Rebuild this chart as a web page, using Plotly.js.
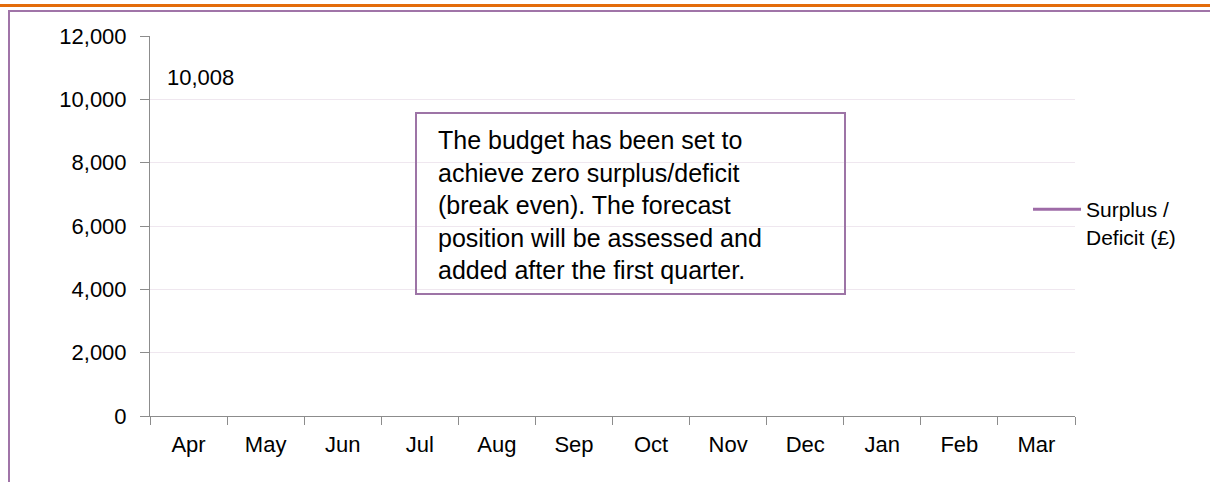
<!DOCTYPE html>
<html>
<head>
<meta charset="utf-8">
<script src="https://cdn.plot.ly/plotly-3.0.1.min.js"></script>
<style>
  html, body { margin: 0; padding: 0; background: #ffffff; }
  #wrap { position: relative; width: 1210px; height: 482px; overflow: hidden; background: #ffffff; }
  #orange { position: absolute; left: 0; top: 4px; width: 1210px; height: 3px; background: #E36C0A; }
  #frame { position: absolute; left: 8px; top: 10px; width: 1210px; height: 480px;
           border-left: 2px solid #A074A8; border-top: 2px solid #A074A8; }
  #chart { position: absolute; left: 0; top: 0; width: 1210px; height: 482px; }
</style>
</head>
<body>
<div id="wrap">
  <div id="orange"></div>
  <div id="frame"></div>
  <div id="chart"></div>
</div>
<script>
// ---- data ----
const months = ['Apr', 'May', 'Jun', 'Jul', 'Aug', 'Sep', 'Oct', 'Nov', 'Dec', 'Jan', 'Feb', 'Mar'];
const surplus = [10008, null, null, null, null, null, null, null, null, null, null, null];
const seriesName = 'Surplus /<br>Deficit (£)';
const yTicks = [0, 2000, 4000, 6000, 8000, 10000, 12000];
const noteText = 'The budget has been set to<br>achieve zero surplus/deficit<br>(break even). The forecast<br>position will be assessed and<br>added after the first quarter.';

const FONT = 'Liberation Sans, Arial, sans-serif';
const W = 1210, H = 482;
const M = { l: 150, r: 135, t: 36, b: 66 };
const pw = W - M.l - M.r, ph = H - M.t - M.b;
const px = x => (x - M.l) / pw;          // pixel -> paper x
const py = y => (H - M.b - y) / ph;      // pixel -> paper y

const fmt = v => v.toLocaleString('en-GB');

const trace = {
  type: 'scatter',
  mode: 'lines',
  x: months,
  y: surplus,
  name: seriesName,
  line: { color: '#9E6BA7', width: 3 },
  connectgaps: false,
  hoverinfo: 'skip'
};

const annotations = [
  {
    x: months[0], y: surplus[0], xref: 'x', yref: 'y',
    text: fmt(surplus[0]), showarrow: false,
    xshift: 12, yshift: 22,
    font: { family: FONT, size: 22, color: '#000000' }
  },
  {
    xref: 'paper', yref: 'paper',
    x: px(436), y: py(205), xanchor: 'left', yanchor: 'middle',
    align: 'left', showarrow: false,
    text: noteText,
    font: { family: FONT, size: 25, color: '#000000' }
  }
];

const shapes = [
  {
    type: 'rect', xref: 'paper', yref: 'paper',
    x0: px(416), x1: px(845), y0: py(294), y1: py(113),
    line: { color: '#9D74A6', width: 2 },
    fillcolor: 'rgba(255,255,255,0)', layer: 'above'
  }
];

const layout = {
  width: W, height: H,
  margin: M,
  paper_bgcolor: 'rgba(0,0,0,0)',
  plot_bgcolor: 'rgba(0,0,0,0)',
  font: { family: FONT, size: 22, color: '#000000' },
  showlegend: true,
  legend: {
    x: px(1028), xanchor: 'left',
    y: py(189), yanchor: 'top',
    valign: 'top',
    itemwidth: 48,
    font: { family: FONT, size: 21, color: '#000000' },
    bgcolor: 'rgba(0,0,0,0)', borderwidth: 0
  },
  xaxis: {
    type: 'category',
    range: [-0.5, months.length - 0.5],
    tickson: 'boundaries',
    ticks: 'outside', ticklen: 8, tickcolor: '#8C8C8C', tickwidth: 1,
    showline: true, linecolor: '#8C8C8C', linewidth: 1,
    showgrid: false, zeroline: false,
    tickfont: { family: FONT, size: 22, color: '#000000' },
    ticklabelstandoff: 9,
    fixedrange: true
  },
  yaxis: {
    range: [0, 12000],
    tickvals: yTicks,
    ticktext: yTicks.map(fmt),
    ticks: 'outside', ticklen: 9, tickcolor: '#8C8C8C', tickwidth: 1,
    showline: true, linecolor: '#8C8C8C', linewidth: 1,
    showgrid: true, gridcolor: '#EFE7EF', gridwidth: 1,
    zeroline: false,
    tickfont: { family: FONT, size: 22, color: '#000000' },
    ticklabelstandoff: 9,
    fixedrange: true
  },
  annotations: annotations,
  shapes: shapes
};

Plotly.newPlot('chart', [trace], layout, { displayModeBar: false, staticPlot: true });
</script>
</body>
</html>
